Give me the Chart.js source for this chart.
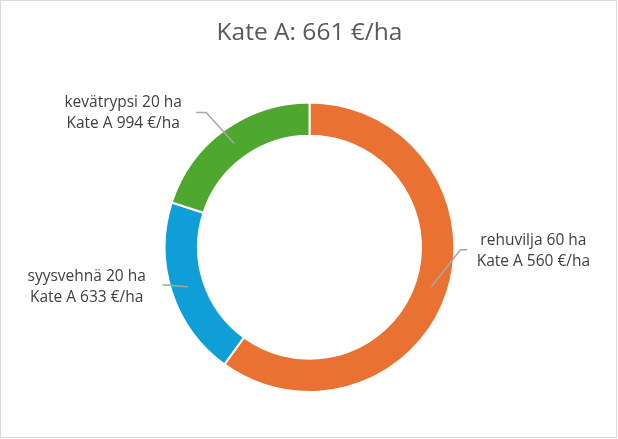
<!DOCTYPE html>
<html>
<head>
<meta charset="utf-8">
<script src="https://cdn.jsdelivr.net/npm/chart.js@4.4.1/dist/chart.umd.min.js"></script>
<style>
  html, body { margin: 0; padding: 0; background: #fff; }
  #wrap { width: 618px; height: 439px; position: relative; }
</style>
</head>
<body>
<div id="wrap"><canvas id="kateChart"></canvas></div>
<script>
// chart values
var crops = ["rehuvilja", "syysvehnä", "kevätrypsi"];
var hectares = [60, 20, 20];
var kateA = [560, 633, 994];
var totalKate = 661;

var sliceColors = ["#E97132", "#0F9ED5", "#4EA72E"];

// where each label sits relative to the middle of its slice
var labelLayout = [
  { elbow: [29, -37], end: [36, -37], text: [102, -36] },
  { elbow: [-25, -2], end: [-25, -2], text: [-101, 0] },
  { elbow: [-28, -31], end: [-38, -31], text: [-111, -30] }
];

var labelFont = "15.5px 'Open Sans'";

// leader lines and two-line labels
var leaderLabels = {
  id: "leaderLabels",
  afterDatasetsDraw: function(chart) {
    var ctx = chart.ctx;
    var arcs = chart.getDatasetMeta(0).data;
    ctx.save();
    arcs.forEach(function(arc, i) {
      var p = arc.getProps(["x", "y", "startAngle", "endAngle", "innerRadius", "outerRadius"], true);
      var mid = (p.startAngle + p.endAngle) / 2;
      var r = (p.innerRadius + p.outerRadius) / 2;
      var ax = p.x + Math.cos(mid) * r;
      var ay = p.y + Math.sin(mid) * r;
      var lay = labelLayout[i];

      ctx.strokeStyle = "#A6A6A6";
      ctx.lineWidth = 1.5;
      ctx.beginPath();
      ctx.moveTo(ax, ay);
      ctx.lineTo(ax + lay.elbow[0], ay + lay.elbow[1]);
      ctx.lineTo(ax + lay.end[0], ay + lay.end[1]);
      ctx.stroke();

      var tx = ax + lay.text[0];
      var ty = ay + lay.text[1];
      ctx.fillStyle = "#404040";
      ctx.font = labelFont;
      ctx.textAlign = "center";
      ctx.textBaseline = "middle";
      ctx.fillText(crops[i] + " " + hectares[i] + " ha", tx, ty - 10.5);
      ctx.fillText("Kate A " + kateA[i] + " €/ha", tx, ty + 10.5);
    });
    ctx.restore();
  }
};

// thin grey frame round the chart
var chartFrame = {
  id: "chartFrame",
  afterDraw: function(chart) {
    var ctx = chart.ctx;
    ctx.save();
    ctx.strokeStyle = "#D9D9D9";
    ctx.lineWidth = 1;
    ctx.strokeRect(0.5, 0.5, chart.width - 2, chart.height - 2);
    ctx.restore();
  }
};

var ctx = document.getElementById("kateChart").getContext("2d");
var kateChart = new Chart(ctx, {
  type: "doughnut",
  data: {
    labels: crops,
    datasets: [{
      data: hectares,
      backgroundColor: sliceColors,
      borderColor: "#FFFFFF",
      borderWidth: 2
    }]
  },
  options: {
    responsive: true,
    maintainAspectRatio: false,
    animation: false,
    cutout: "77%",
    layout: { padding: { top: 0, bottom: 46, left: 1, right: 0 } },
    plugins: {
      legend: { display: false },
      tooltip: { enabled: false },
      title: {
        display: true,
        text: "Kate A: " + totalKate + " €/ha",
        color: "#595959",
        font: { family: "'Open Sans'", size: 24.5, weight: "normal" },
        padding: { top: 18, bottom: 54 }
      }
    }
  },
  plugins: [leaderLabels, chartFrame]
});
</script>
</body>
</html>
